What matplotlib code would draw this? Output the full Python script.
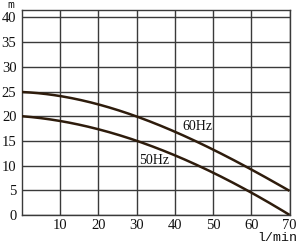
import matplotlib
matplotlib.use("Agg")
import matplotlib.pyplot as plt
import numpy as np

flow = [0, 10, 20, 30, 40, 50, 60, 70]
head_60hz = [25, 23.9, 22.3, 20.1, 17.0, 13.2, 9.0, 5.0]
head_50hz = [20, 19.0, 17.4, 15.0, 12.1, 8.5, 4.6, 0.0]
x_ticks = [10, 20, 30, 40, 50, 60, 70]
y_ticks = [0, 5, 10, 15, 20, 25, 30, 35, 40]

plt.rcParams['font.family'] = ['Liberation Serif', 'DejaVu Serif']

fig = plt.figure(figsize=(3.0, 2.49), dpi=100)
ax = fig.add_axes([22/300, 1 - 215/249, (289.5-22)/300, (215-10)/249])

xs = np.linspace(0, 70, 200)
for h in (head_60hz, head_50hz):
    c = np.polyfit(flow, h, 3)
    ax.plot(xs, np.polyval(c, xs), color='#2e1c0c', lw=1.8, solid_capstyle='butt', zorder=3)

ax.set_xlim(0, 70)
ax.set_ylim(0, 41.5)
ax.set_xticks(x_ticks)
ax.set_yticks(y_ticks)
ax.grid(True, color='#3a3a3a', lw=1.0)
for s in ax.spines.values():
    s.set_color('#3a3a3a')
    s.set_linewidth(1.0)
ax.tick_params(length=0, labelsize=10.5, colors='#111111', pad=3)
ax.tick_params(axis='y', pad=4)
for lbl in ax.get_yticklabels():
    lbl.set_va('center_baseline')

ax.text(45.8, 18.0, '60Hz', fontsize=10, ha='center', va='center', color='#111111')
ax.text(34.7, 11.0, '50Hz', fontsize=10, ha='center', va='center', color='#111111')
fig.text(11/300, 1 - 5.5/249, 'm', fontsize=8, ha='center', va='center', color='#111111', family='DejaVu Sans Mono')
fig.text(277/300, 1 - 238/249, 'l/min', fontsize=9.5, ha='center', va='center', color='#111111', family='Liberation Mono')

fig.savefig('out.png', dpi=100)
